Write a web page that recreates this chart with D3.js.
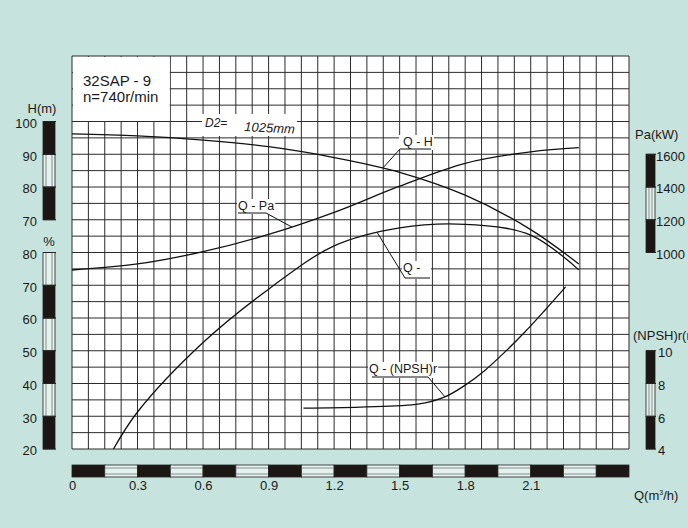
<!DOCTYPE html>
<html>
<head>
<meta charset="utf-8">
<script src="https://cdn.jsdelivr.net/npm/d3@7"></script>
<style>
  body { margin: 0; background: #c7e3dd; }
  #chart { width: 688px; height: 528px; }
  text { font-family: "Liberation Sans", Arial, sans-serif; fill: #1a1a1a; }
</style>
</head>
<body>
<div id="chart"></div>
<script>
/* values */
const flowH = [0, 0.3, 0.6, 0.9, 1.2, 1.5, 1.8, 2.1, 2.32];
const head = [96.2, 95.6, 94.3, 92.3, 89.0, 84.5, 77.5, 67.0, 56.5];

const flowPa = [0, 0.3, 0.6, 0.9, 1.2, 1.5, 1.8, 2.1, 2.32];
const power = [893, 930, 1005, 1110, 1245, 1405, 1545, 1615, 1640];

const flowEta = [0.19, 0.3, 0.6, 0.9, 1.2, 1.5, 1.8, 2.1, 2.32];
const eff = [20, 31.3, 52.5, 68.8, 82.0, 87.5, 88.6, 85.3, 74.7];

const flowNpsh = [1.06, 1.32, 1.59, 1.71, 1.80, 1.89, 1.98, 2.07, 2.16, 2.26];
const npsh = [6.5, 6.56, 6.75, 7.2, 7.9, 8.8, 9.9, 11.1, 12.4, 13.9];

/* axis ticks */
const qTicks = [0, 0.3, 0.6, 0.9, 1.2, 1.5, 1.8, 2.1];
const hTicks = [70, 80, 90, 100];
const effTicks = [20, 30, 40, 50, 60, 70, 80];
const paTicks = [1000, 1200, 1400, 1600];
const npshTicks = [4, 6, 8, 10];

const width = 688, height = 528;
const plot = { left: 72, right: 629, top: 56, bottom: 449 };

const svg = d3.select("#chart")
    .append("svg")
    .attr("width", width)
    .attr("height", height);

// scales - every axis shares the same 24 row grid
const x = d3.scaleLinear().domain([0, 2.55]).range([plot.left, plot.right]);
const yH = d3.scaleLinear().domain([0, 120]).range([plot.bottom, plot.top]);
const yEta = d3.scaleLinear().domain([20, 140]).range([plot.bottom, plot.top]);
const yPa = d3.scaleLinear().domain([-200, 2200]).range([plot.bottom, plot.top]);
const yNpsh = d3.scaleLinear().domain([4, 28]).range([plot.bottom, plot.top]);

// plot background + grid
svg.append("rect")
    .attr("x", plot.left).attr("y", plot.top)
    .attr("width", plot.right - plot.left).attr("height", plot.bottom - plot.top)
    .attr("fill", "#fff");

const grid = svg.append("g").attr("stroke", "#2b2b2b").attr("stroke-width", 1);
d3.range(35).map(i => i * 0.075).forEach(q => {
    grid.append("line")
        .attr("x1", x(q)).attr("x2", x(q))
        .attr("y1", plot.top).attr("y2", plot.bottom);
});
d3.range(25).map(i => i * 5).forEach(h => {
    grid.append("line")
        .attr("x1", plot.left).attr("x2", plot.right)
        .attr("y1", yH(h)).attr("y2", yH(h));
});

// title box in the corner
svg.append("rect")
    .attr("x", plot.left + 1).attr("y", plot.top + 1)
    .attr("width", x(0.45) - plot.left - 1.5).attr("height", yH(100) - plot.top - 1.5)
    .attr("fill", "#fff");
svg.append("text").attr("x", 83).attr("y", 86).attr("font-size", 15).text("32SAP - 9");
svg.append("text").attr("x", 83).attr("y", 102).attr("font-size", 15).text("n=740r/min");

// impeller diameter box
svg.append("rect")
    .attr("x", 202).attr("y", 114).attr("width", 95).attr("height", 22)
    .attr("fill", "#fff");
svg.append("text").attr("x", 205).attr("y", 127).attr("font-size", 12)
    .attr("font-style", "italic").text("D2=");
svg.append("text").attr("font-size", 13).attr("font-style", "italic")
    .attr("transform", "translate(244,131) rotate(3)").text("1025mm");

// curves
const toPts = (qs, vs) => qs.map((q, i) => ({ q: q, v: vs[i] }));
function curve(data, yScale) {
    return svg.append("path")
        .datum(data)
        .attr("fill", "none")
        .attr("stroke", "#111")
        .attr("stroke-width", 1.3)
        .attr("d", d3.line().x(d => x(d.q)).y(d => yScale(d.v)).curve(d3.curveCatmullRom.alpha(0.5)));
}
const pathH = curve(toPts(flowH, head), yH);
const pathPa = curve(toPts(flowPa, power), yPa);
const pathEta = curve(toPts(flowEta, eff), yEta);
const pathNpsh = curve(toPts(flowNpsh, npsh), yNpsh);

// find a point of a path at a given x (paths run left to right)
function pointAtX(node, px) {
    let lo = 0, hi = node.getTotalLength();
    for (let i = 0; i < 40; i++) {
        const mid = (lo + hi) / 2;
        if (node.getPointAtLength(mid).x < px) lo = mid; else hi = mid;
    }
    return node.getPointAtLength(lo);
}

// curve labels with underline + leader
const labels = [
    { path: pathH, text: "Q - H", tx: 403, ty: 146, u0: 400, u1: 431, uy: 149, from: 400, atX: 383 },
    { path: pathPa, text: "Q - Pa", tx: 238, ty: 210, u0: 238, u1: 266, uy: 213, from: 266, atX: 292 },
    { path: pathEta, text: "Q - ", tx: 403, ty: 272, u0: 405, u1: 430, uy: 278, from: 405, atX: 377 },
    { path: pathNpsh, text: "Q - (NPSH)r", tx: 369, ty: 373, u0: 372, u1: 428, uy: 377, from: 428, atX: 445 }
];
labels.forEach(l => {
    const t = svg.append("text").attr("x", l.tx).attr("y", l.ty).attr("font-size", 12.5).text(l.text);
    const b = t.node().getBBox();
    svg.insert("rect", () => t.node())
        .attr("x", Math.min(b.x, l.u0) - 1).attr("y", b.y)
        .attr("width", Math.max(b.x + b.width, l.u1) - Math.min(b.x, l.u0) + 2)
        .attr("height", l.uy - b.y + 1)
        .attr("fill", "#fff");
    const p = pointAtX(l.path.node(), l.atX);
    svg.append("line").attr("x1", l.u0).attr("x2", l.u1).attr("y1", l.uy).attr("y2", l.uy)
        .attr("stroke", "#111").attr("stroke-width", 1);
    svg.append("line").attr("x1", l.from).attr("y1", l.uy).attr("x2", p.x).attr("y2", p.y)
        .attr("stroke", "#111").attr("stroke-width", 1);
});

// striped scale bars, bottom segment black then alternating
function vBar(scale, ticks, x0, w) {
    const g = svg.append("g");
    for (let i = 0; i < ticks.length - 1; i++) {
        const y0 = scale(ticks[i + 1]), y1 = scale(ticks[i]);
        const dark = i % 2 === 0;
        g.append("rect").attr("x", x0).attr("y", y0).attr("width", w).attr("height", y1 - y0)
            .attr("fill", dark ? "#1c1714" : "#e4f1ee").attr("stroke", "#222").attr("stroke-width", 0.8);
        if (!dark) {
            [3, w - 3].forEach(dx => g.append("line")
                .attr("x1", x0 + dx).attr("x2", x0 + dx).attr("y1", y0).attr("y2", y1)
                .attr("stroke", "#6d7a77").attr("stroke-width", 0.8));
        }
    }
    ticks.forEach(t => g.append("line")
        .attr("x1", x0).attr("x2", x0 + w + 1).attr("y1", scale(t)).attr("y2", scale(t))
        .attr("stroke", "#222").attr("stroke-width", 1));
}
vBar(yH, hTicks, 43, 12);
vBar(yEta, effTicks, 43, 12);
vBar(yPa, paTicks, 646, 9);
vBar(yNpsh, npshTicks, 646, 9);

// bottom bar, 0.15 per segment
const segs = d3.range(17).map(i => i * 0.15);
const hb = svg.append("g");
segs.forEach((q, i) => {
    const dark = i % 2 === 0;
    hb.append("rect").attr("x", x(q)).attr("y", 465).attr("width", x(q + 0.15) - x(q)).attr("height", 12)
        .attr("fill", dark ? "#1c1714" : "#e4f1ee").attr("stroke", "#222").attr("stroke-width", 0.8);
    if (!dark) {
        [468, 474].forEach(yy => hb.append("line")
            .attr("x1", x(q)).attr("x2", x(q + 0.15)).attr("y1", yy).attr("y2", yy)
            .attr("stroke", "#6d7a77").attr("stroke-width", 0.8));
    }
});

// tick labels through d3 axes
function styleAxis(g) {
    g.select(".domain").remove();
    g.attr("font-family", null).attr("font-size", 13);
    g.selectAll("text").attr("fill", "#1a1a1a");
}
function sideLabels(g) {
    styleAxis(g);
    g.selectAll("text").attr("dy", "0.45em");
}
svg.append("g").attr("transform", "translate(40,0)")
    .call(d3.axisLeft(yH).tickValues(hTicks).tickSize(0).tickPadding(3)).call(sideLabels);
svg.append("g").attr("transform", "translate(40,0)")
    .call(d3.axisLeft(yEta).tickValues(effTicks).tickSize(0).tickPadding(3)).call(sideLabels);
svg.append("g").attr("transform", "translate(655,0)")
    .call(d3.axisRight(yPa).tickValues(paTicks).tickSize(0).tickPadding(1).tickFormat(d3.format("d")))
    .call(sideLabels);
svg.append("g").attr("transform", "translate(655,0)")
    .call(d3.axisRight(yNpsh).tickValues(npshTicks).tickSize(0).tickPadding(3)).call(sideLabels);
svg.append("g").attr("transform", "translate(0,481)")
    .call(d3.axisBottom(x).tickValues(qTicks).tickSize(0).tickPadding(0)
        .tickFormat(d => d === 0 ? "0" : d3.format(".1f")(d)))
    .call(styleAxis);

// axis titles
svg.append("text").attr("x", 42).attr("y", 113).attr("text-anchor", "middle").attr("font-size", 13).text("H(m)");
svg.append("text").attr("x", 49).attr("y", 246).attr("text-anchor", "middle").attr("font-size", 13).text("%");
svg.append("text").attr("x", 635).attr("y", 139).attr("font-size", 13).text("Pa(kW)");
svg.append("text").attr("x", 633).attr("y", 340).attr("font-size", 13).text("(NPSH)r(m)");
const ql = svg.append("text").attr("x", 634).attr("y", 500).attr("font-size", 13);
ql.append("tspan").text("Q(m");
ql.append("tspan").attr("font-size", 7).attr("dy", -5).text("3");
ql.append("tspan").attr("dy", 5).text("/h)");
</script>
</body>
</html>
